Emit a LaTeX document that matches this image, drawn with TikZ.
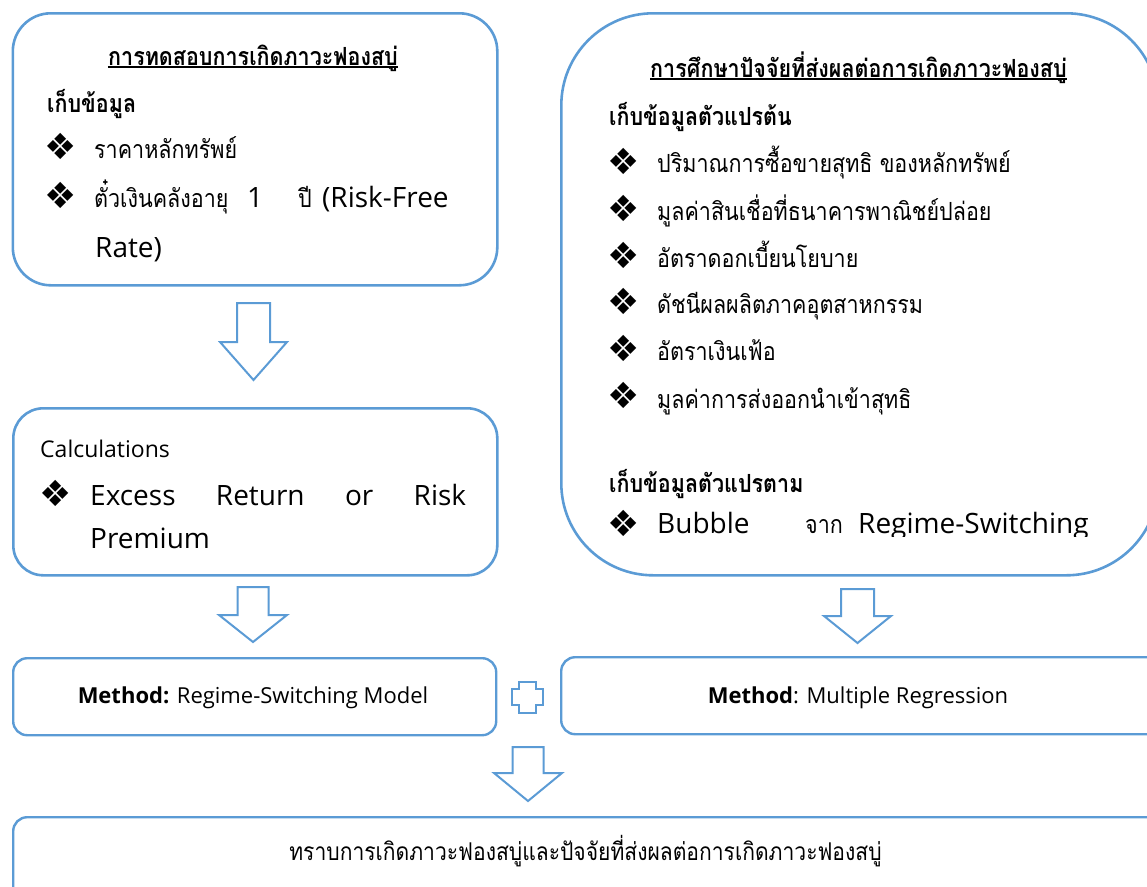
\documentclass[tikz,border=0pt]{standalone}
\usepackage{fontspec}
\setmainfont{Open Sans}
\newfontfamily\thai[Script=Thai,FakeStretch=0.86]{Loma}
\newfontfamily\symfont{DejaVu Sans}
\usetikzlibrary{calc}
\definecolor{accent}{HTML}{5B9BD5}

\tikzset{
  frame/.style={draw=accent, line width=2.6pt, inner sep=0pt, anchor=north west},
  blockarrow/.style={draw=accent, line width=2pt, line join=miter, fill=white},
  txt/.style={inner sep=0pt, anchor=base west},
  ctxt/.style={inner sep=0pt, anchor=base},
  bul/.style={inner sep=0pt, anchor=center, font=\symfont\fontsize{36}{36}\selectfont},
  th/.style={font=\thai\fontsize{25}{30}\selectfont},
  thb/.style={font=\thai\bfseries\fontsize{25}{30}\selectfont},
  lat/.style={font=\fontsize{28}{34}\selectfont},
  uline/.style={line width=1.2pt},
}

% downward block arrow: centre x, top, head base, tip, shaft half width, head half width
\newcommand\downblock[6]{%
  \draw[blockarrow] (#1-#5,#2) -- (#1+#5,#2) -- (#1+#5,#3) -- (#1+#6,#3)
    -- (#1,#4) -- (#1-#6,#3) -- (#1-#5,#3) -- cycle;}

\begin{document}
\begin{tikzpicture}[x=1pt,y=-1pt]
\useasboundingbox (0,0) rectangle (1147,886);

% ---------- boxes ----------
\node[frame, rounded corners=38pt, minimum width=484.5pt, minimum height=272pt] (test) at (11.5,12) {};
\node[frame, rounded corners=92pt, minimum width=597pt, minimum height=562pt] (factor) at (560,12) {};
\node[frame, rounded corners=30pt, minimum width=484pt, minimum height=167pt] (calc) at (12,407) {};
\node[frame, line width=2.4pt, rounded corners=14pt, minimum width=483pt, minimum height=77pt] (rsm) at (12,657) {};
\node[frame, line width=2.4pt, rounded corners=14pt, minimum width=610pt, minimum height=77pt] (mreg) at (560,656) {};
\node[frame, line width=2.4pt, rounded corners=14pt, minimum width=1160pt, minimum height=90pt] (result) at (12,816) {};

% ---------- left column text ----------
\node[ctxt, thb] (t1) at (253,65) {การทดสอบการเกิดภาวะฟองสบู่};
\draw[uline] ([yshift=-2pt]t1.base west) -- ([yshift=-2pt]t1.base east);
\node[txt, thb] (t1a) at (47,112) {เก็บข้อมูล};
\node[bul] (b1) at (60.5,146.5) {❖};
\node[txt, th] (t1b) at (94,158) {ราคาหลักทรัพย์};
\node[bul] (b2) at (60.5,195) {❖};
\node[txt, th] (t1c) at (94,207) {ตั๋วเงินคลังอายุ};
\node[txt, lat] (t1d) at (247,207) {1};
\node[txt, th] (t1e) at (298,207) {ปี};
\node[txt, lat] (t1f) at (322,207) {(Risk-Free};
\node[txt, lat] (t1g) at (95,257) {Rate)};

\node[txt, font=\fontsize{23}{28}\selectfont] (c1) at (40,457) {Calculations};
\node[bul] (b3) at (55.5,493.5) {❖};
\node[txt, lat] (c2) at (90,505) {\makebox[376pt][s]{Excess Return or Risk}};
\node[txt, lat] (c3) at (90,548) {Premium};

% ---------- right column text ----------
\node[ctxt, thb] (t2) at (858.5,77) {การศึกษาปัจจัยที่ส่งผลต่อการเกิดภาวะฟองสบู่};
\draw[uline] ([yshift=-2pt]t2.base west) -- ([yshift=-2pt]t2.base east);
\node[txt, thb] (iv) at (609,125) {เก็บข้อมูลตัวแปรต้น};
\node[bul] (vb1) at (623.5,161.5) {❖};
\node[txt, th] (v1) at (657,172) {ปริมาณการซื้อขายสุทธิ ของหลักทรัพย์};
\node[bul] (vb2) at (623.5,208.5) {❖};
\node[txt, th] (v2) at (657,220) {มูลค่าสินเชื่อที่ธนาคารพาณิชย์ปล่อย};
\node[bul] (vb3) at (623.5,255) {❖};
\node[txt, th] (v3) at (657,267) {อัตราดอกเบี้ยนโยบาย};
\node[bul] (vb4) at (623.5,301.5) {❖};
\node[txt, th] (v4) at (657,313) {ดัชนีผลผลิตภาคอุตสาหกรรม};
\node[bul] (vb5) at (623.5,348.5) {❖};
\node[txt, th] (v5) at (657,360) {อัตราเงินเฟ้อ};
\node[bul] (vb6) at (623.5,395) {❖};
\node[txt, th] (v6) at (657,408) {มูลค่าการส่งออกนำเข้าสุทธิ};
\node[txt, thb] (dv) at (609,492) {เก็บข้อมูลตัวแปรตาม};
\begin{scope}
  \clip (560,480) rectangle (1147,536);
  \node[bul] (db) at (623.5,523) {❖};
  \node[txt, lat] (d1) at (657,533) {Bubble};
  \node[txt, th] (d2) at (805,533) {จาก};
  \node[txt, lat] (d3) at (858,533) {Regime-Switching};
\end{scope}

% ---------- methods and result ----------
\node[ctxt, font=\fontsize{22}{26}\selectfont] (m1) at (253,703) {\textbf{Method:} Regime-Switching Model};
\node[ctxt, font=\fontsize{22}{26}\selectfont] (m2) at (858,703) {\textbf{Method}: Multiple Regression};
\node[ctxt, font=\thai\fontsize{24.5}{28}\selectfont] (r1) at (585.5,860) {ทราบการเกิดภาวะฟองสบู่และปัจจัยที่ส่งผลต่อการเกิดภาวะฟองสบู่};

% ---------- block arrows ----------
\downblock{253.5}{303}{342}{380}{16.5}{33.5}
\downblock{253}{587}{615}{642}{15.5}{34}
\downblock{857.5}{589}{616}{643}{16.5}{33.5}
\downblock{528}{747}{773}{801}{15.5}{34}

% plus sign between the two methods
\draw[blockarrow] (519,682) -- (536,682) -- (536,689) -- (543,689) -- (543,705)
  -- (536,705) -- (536,713) -- (519,713) -- (519,705) -- (512,705) -- (512,689)
  -- (519,689) -- cycle;
\end{tikzpicture}
\end{document}
